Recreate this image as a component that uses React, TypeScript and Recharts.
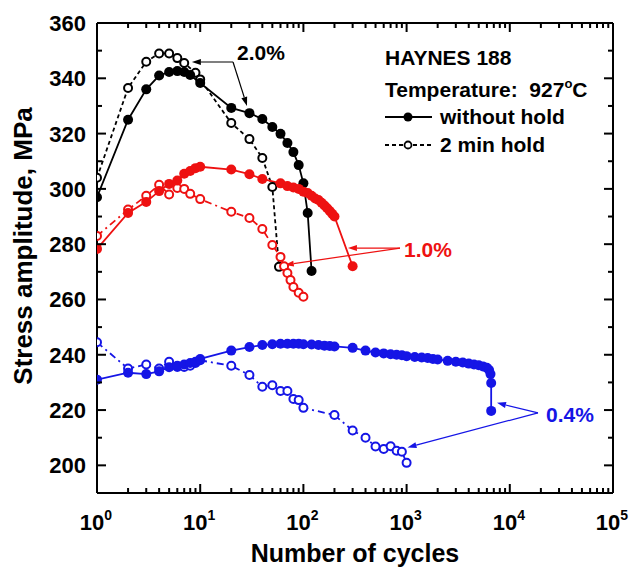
import React from 'react';
import { LineChart, Line, XAxis, YAxis, ReferenceLine } from 'recharts';

// 2.0% strain range
const blackNoHoldN = [1, 2, 3, 4, 5, 6, 7, 8, 10, 20, 30, 40, 50, 60, 70, 80, 90, 100, 110, 120];
const blackNoHoldS = [297, 325, 336, 341, 342.3, 342.6, 342.3, 341.2, 338.3, 329.3, 327.4, 325.3, 322.4, 319.9, 316.6, 313.3, 308.6, 302, 291.3, 270.3];
const blackHoldN = [1, 2, 3, 4, 5, 6, 7, 9, 10, 20, 30, 40, 50, 58];
const blackHoldS = [304, 336.5, 346, 349, 349, 347.3, 345.5, 342, 339.6, 323.8, 318, 311.2, 300.7, 271.8];

// 1.0% strain range
const redNoHoldN = [1, 2, 3, 4, 5, 6, 7, 8, 9, 10, 20, 30, 40, 60, 70, 80, 90, 100, 110, 120, 130, 140, 150, 160, 170, 180, 190, 200, 300];
const redNoHoldS = [278.3, 291.3, 295.3, 299.2, 301.8, 303, 305.5, 306.5, 307.5, 308, 307, 305.3, 303.6, 302, 301, 300.5, 300, 299, 298.5, 297.5, 296.5, 296, 295, 294, 293, 292, 291, 290, 272];
const redHoldN = [1, 2, 3, 4, 5, 6, 7, 8, 10, 20, 30, 40, 50, 60, 65, 70, 75, 80, 90, 100];
const redHoldS = [283, 292.5, 297.5, 301.5, 298, 300.3, 300, 298.2, 296.3, 291.7, 289.5, 285.5, 279.7, 275.4, 272, 269.6, 267, 264.5, 262.4, 261];

// 0.4% strain range
const blueNoHoldN = [1, 2, 3, 4, 5, 6, 7, 8, 9, 10, 20, 30, 40, 50, 60, 70, 80, 90, 100, 120, 140, 160, 180, 200, 300, 400, 500, 600, 700, 800, 900, 1000, 1200, 1400, 1600, 1800, 2000, 2500, 3000, 3500, 4000, 4500, 5000, 5500, 6000, 6300, 6500, 6600, 6600];
const blueNoHoldS = [231, 233.5, 233, 234, 235.5, 236, 236.5, 237, 237.5, 238.5, 241.5, 242.8, 243.5, 243.8, 244, 244, 244, 244, 243.8, 243.7, 243.5, 243.3, 243.2, 243, 242.5, 241.5, 240.8, 240.5, 240.2, 240, 239.8, 239.5, 239.2, 239, 238.8, 238.5, 238.3, 237.8, 237.5, 237.2, 236.8, 236.5, 236.2, 235.8, 235.3, 234.5, 233, 229.8, 219.7];
const blueHoldN = [1, 2, 3, 4, 5, 6, 7, 8, 9, 10, 20, 30, 40, 50, 60, 70, 80, 90, 100, 200, 300, 400, 500, 600, 700, 800, 900, 1000];
const blueHoldS = [244.5, 235, 236.5, 235, 237.5, 235.6, 235.6, 236, 237, 238, 236, 232.7, 228.4, 229, 226.9, 226.9, 224, 223.6, 220.8, 218.2, 212.6, 210, 206.8, 205.9, 206.9, 205.3, 204.9, 200.9];

const xTicks = [1, 2, 3, 4, 5, 6, 7, 8, 9, 10, 20, 30, 40, 50, 60, 70, 80, 90, 100, 200, 300, 400, 500, 600, 700, 800, 900, 1000, 2000, 3000, 4000, 5000, 6000, 7000, 8000, 9000, 10000, 20000, 30000, 40000, 50000, 60000, 70000, 80000, 90000, 100000];
const yTicks = [200, 210, 220, 230, 240, 250, 260, 270, 280, 290, 300, 310, 320, 330, 340, 350, 360];

const BLACK = '#000000';
const RED = '#ee1111';
const BLUE = '#1515e6';
const FONT = '"Liberation Sans", Arial, sans-serif';

const zip = (n: number[], s: number[]) => n.map((v, i) => ({ n: v, s: s[i] }));

const isDecade = (v: number) => Math.abs(Math.log10(v) - Math.round(Math.log10(v))) < 1e-9;

const BottomTick = (props: any) => {
  const { x, y, payload } = props;
  const v = payload.value;
  const major = isDecade(v);
  return (
    <g>
      <line x1={x} x2={x} y1={y} y2={y - (major ? 9 : 5)} stroke={BLACK} strokeWidth={2} />
      {major && (
        <text x={x - 1} y={y + 37} textAnchor="middle" fontFamily={FONT} fontWeight="bold" fontSize={22} fill={BLACK}>
          10
          <tspan fontSize={14} dy={-10}>{Math.round(Math.log10(v))}</tspan>
        </text>
      )}
    </g>
  );
};

const TopTick = (props: any) => {
  const { x, y, payload } = props;
  const major = isDecade(payload.value);
  return <line x1={x} x2={x} y1={y} y2={y + (major ? 9 : 5)} stroke={BLACK} strokeWidth={2} />;
};

const LeftTick = (props: any) => {
  const { x, y, payload } = props;
  const v = payload.value;
  const major = v % 20 === 0;
  return (
    <g>
      <line x1={x} x2={x + (major ? 9 : 5)} y1={y} y2={y} stroke={BLACK} strokeWidth={2} />
      {major && (
        <text x={x - 11} y={y} dy="0.36em" textAnchor="end" fontFamily={FONT} fontWeight="bold" fontSize={22} fill={BLACK}>
          {v}
        </text>
      )}
    </g>
  );
};

const RightTick = (props: any) => {
  const { x, y, payload } = props;
  const major = payload.value % 20 === 0;
  return <line x1={x} x2={x - (major ? 9 : 5)} y1={y} y2={y} stroke={BLACK} strokeWidth={2} />;
};

const arrowShape = (color: string) => (p: any) => {
  const { x1, y1, x2, y2 } = p;
  const a = Math.atan2(y2 - y1, x2 - x1);
  const L = 9;
  const w = 3;
  const bx = x2 - L * Math.cos(a);
  const by = y2 - L * Math.sin(a);
  const px = -Math.sin(a) * w;
  const py = Math.cos(a) * w;
  return (
    <g>
      <line x1={x1} y1={y1} x2={bx} y2={by} stroke={color} strokeWidth={1.2} />
      <polygon points={`${x2},${y2} ${bx + px},${by + py} ${bx - px},${by - py}`} fill={color} />
    </g>
  );
};

const filledDot = (color: string) => (p: any) =>
  <circle key={p.index} cx={p.cx} cy={p.cy} r={5} fill={color} />;
const openDot = (color: string) => (p: any) =>
  <circle key={p.index} cx={p.cx} cy={p.cy} r={4} fill="#ffffff" stroke={color} strokeWidth={2} />;

export default function App() {
  return (
    <div style={{ position: 'absolute', left: 0, top: 0, width: 630, height: 569, background: '#fff' }}>
      <LineChart width={630} height={569} margin={{ top: 22, right: 16, bottom: 0, left: 0 }}>
        <XAxis
          xAxisId="b"
          dataKey="n"
          type="number"
          scale="log"
          domain={[1, 100000]}
          allowDataOverflow
          ticks={xTicks}
          interval={0}
          tick={<BottomTick />}
          tickLine={false}
          tickSize={0}
          tickMargin={0}
          height={76}
          axisLine={{ stroke: BLACK, strokeWidth: 2 }}
        />
        <XAxis
          xAxisId="t"
          orientation="top"
          dataKey="n"
          type="number"
          scale="log"
          domain={[1, 100000]}
          allowDataOverflow
          ticks={xTicks}
          interval={0}
          tick={<TopTick />}
          tickLine={false}
          tickSize={0}
          tickMargin={0}
          height={1}
          axisLine={{ stroke: BLACK, strokeWidth: 2 }}
        />
        <YAxis
          yAxisId="l"
          type="number"
          domain={[190, 360]}
          allowDataOverflow
          ticks={yTicks}
          interval={0}
          tick={<LeftTick />}
          tickLine={false}
          tickSize={0}
          tickMargin={0}
          width={97}
          axisLine={{ stroke: BLACK, strokeWidth: 2 }}
        />
        <YAxis
          yAxisId="r"
          orientation="right"
          type="number"
          domain={[190, 360]}
          allowDataOverflow
          ticks={yTicks}
          interval={0}
          tick={<RightTick />}
          tickLine={false}
          tickSize={0}
          tickMargin={0}
          width={1}
          axisLine={{ stroke: BLACK, strokeWidth: 2 }}
        />

        {/* invisible series so the top and right frame axes are drawn */}
        <Line xAxisId="t" yAxisId="r" data={zip(blackNoHoldN, blackNoHoldS)} dataKey="s" stroke="none" dot={false} activeDot={false} legendType="none" isAnimationActive={false} />

        {/* hold-time series (dashed, open symbols) */}
        <Line xAxisId="b" yAxisId="l" data={zip(blackHoldN, blackHoldS)} dataKey="s" stroke={BLACK} strokeWidth={1.8} strokeDasharray="4 3" dot={openDot(BLACK)} isAnimationActive={false} />
        <Line xAxisId="b" yAxisId="l" data={zip(redHoldN, redHoldS)} dataKey="s" stroke={RED} strokeWidth={1.8} strokeDasharray="7 4 2 4" dot={openDot(RED)} isAnimationActive={false} />
        <Line xAxisId="b" yAxisId="l" data={zip(blueHoldN, blueHoldS)} dataKey="s" stroke={BLUE} strokeWidth={1.8} strokeDasharray="7 4 2 4" dot={openDot(BLUE)} isAnimationActive={false} />

        {/* continuous cycling series (solid, filled symbols) */}
        <Line xAxisId="b" yAxisId="l" data={zip(blackNoHoldN, blackNoHoldS)} dataKey="s" stroke={BLACK} strokeWidth={1.8} dot={filledDot(BLACK)} isAnimationActive={false} />
        <Line xAxisId="b" yAxisId="l" data={zip(redNoHoldN, redNoHoldS)} dataKey="s" stroke={RED} strokeWidth={1.8} dot={filledDot(RED)} isAnimationActive={false} />
        <Line xAxisId="b" yAxisId="l" data={zip(blueNoHoldN, blueNoHoldS)} dataKey="s" stroke={BLUE} strokeWidth={1.8} dot={filledDot(BLUE)} isAnimationActive={false} />

        {/* annotation arrows */}
        <ReferenceLine xAxisId="b" yAxisId="l" segment={[{ x: 20.8, y: 345.9 }, { x: 8.3, y: 345.9 }]} shape={arrowShape(BLACK)} />
        <ReferenceLine xAxisId="b" yAxisId="l" segment={[{ x: 20.8, y: 345.9 }, { x: 28.4, y: 330 }]} shape={arrowShape(BLACK)} />
        <ReferenceLine xAxisId="b" yAxisId="l" segment={[{ x: 863, y: 278.6 }, { x: 270, y: 278.6 }]} shape={arrowShape(RED)} />
        <ReferenceLine xAxisId="b" yAxisId="l" segment={[{ x: 863, y: 278.6 }, { x: 66, y: 272.5 }]} shape={arrowShape(RED)} />
        <ReferenceLine xAxisId="b" yAxisId="l" segment={[{ x: 18760, y: 219 }, { x: 7510, y: 222.6 }]} shape={arrowShape(BLUE)} />
        <ReferenceLine xAxisId="b" yAxisId="l" segment={[{ x: 18760, y: 219 }, { x: 1020, y: 206.5 }]} shape={arrowShape(BLUE)} />
      </LineChart>

      <svg width={630} height={569} style={{ position: 'absolute', left: 0, top: 0, pointerEvents: 'none' }} fontFamily={FONT} fontWeight="bold">
        <text x={355} y={562} textAnchor="middle" fontSize={25} fill={BLACK}>Number of cycles</text>
        <text transform="translate(32,246) rotate(-90)" textAnchor="middle" fontSize={26} fill={BLACK}>Stress amplitude, MPa</text>

        <text x={385} y={65} fontSize={21} fill={BLACK}>HAYNES 188</text>
        <text x={385} y={97} fontSize={21} fill={BLACK}>
          Temperature:{'\u00a0\u00a0'}927<tspan fontSize={13} dy={-9}>o</tspan><tspan dy={9}>C</tspan>
        </text>
        <line x1={385} x2={432} y1={117} y2={117} stroke={BLACK} strokeWidth={2} />
        <circle cx={408} cy={117} r={4.5} fill={BLACK} />
        <text x={440} y={124} fontSize={21} fill={BLACK}>without hold</text>
        <line x1={385} x2={432} y1={145} y2={145} stroke={BLACK} strokeWidth={2} strokeDasharray="4 3" />
        <circle cx={408} cy={145} r={3.5} fill="#fff" stroke={BLACK} strokeWidth={1.8} />
        <text x={440} y={152} fontSize={21} fill={BLACK}>2 min hold</text>

        <text x={237} y={60} fontSize={21} fill={BLACK}>2.0%</text>
        <text x={404} y={257} fontSize={21} fill={RED}>1.0%</text>
        <text x={546} y={422} fontSize={21} fill={BLUE}>0.4%</text>
      </svg>
    </div>
  );
}
